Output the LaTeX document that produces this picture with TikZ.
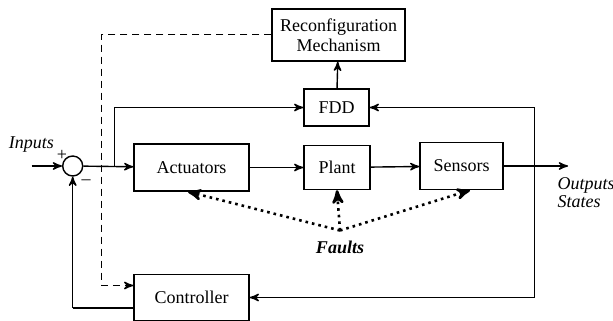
\documentclass[tikz,border=0pt]{standalone}
\usepackage{fontspec}
\setmainfont{Liberation Serif}
\usetikzlibrary{arrows}

\begin{document}
\begin{tikzpicture}[x=0.5pt, y=-0.5pt, ->, >=stealth', line width=0.7pt,
    font=\fontsize{9}{10}\selectfont]
  \tikzstyle{block} = [draw, rectangle, inner sep=0pt, align=center]
  \tikzstyle{fault} = [dotted, line width=1.3pt]
  \tikzstyle{signal} = [font=\fontsize{9}{9}\selectfont\itshape, align=left]
  \useasboundingbox (0,0) rectangle (613,320);
  \node [block, minimum width=66.5pt, minimum height=26pt] (recon) at (338.5,35) {Reconfiguration\\Mechanism};
  \node [block, minimum width=32.5pt, minimum height=18.5pt] (fdd) at (336.5,107.5) {FDD};
  \node [block, minimum width=57.5pt, minimum height=23.5pt] (act) at (191.5,167.5) {Actuators};
  \node [block, minimum width=33pt, minimum height=22pt] (plant) at (337,167.5) {Plant};
  \node [block, minimum width=41.5pt, minimum height=23.5pt] (sens) at (461.5,166) {Sensors};
  \node [block, minimum width=57.5pt, minimum height=23pt] (ctrl) at (191.5,297.5) {Controller};
  \node [draw, circle, minimum size=10pt, inner sep=0pt] (sum) at (72.7,166) {};
  \node [signal] (in) at (31.5,145) {Inputs};
  \node (plus) at (62,155) {+};
  \node (minus) at (86,182) {--};
  \node [signal, anchor=north west, inner sep=1pt] (out) at (555,175) {Outputs\\States};
  \node [font=\fontsize{9}{9}\selectfont\bfseries\itshape] (faults) at (340,247) {Faults};
  \coordinate (fp) at (340,230.5);
  \coordinate (src) at (31.5,166);
  \coordinate (split) at (114.3,166);
  \coordinate (tap) at (534.5,166);
  \coordinate (end) at (568,166);
  \coordinate (corner) at (101.7,34.3);
  \coordinate (fb) at (72.7,308);

  \draw (src) -- (sum);
  \draw (sum) -- (act);
  \draw (act) -- (plant);
  \draw (plant) -- (sens);
  \draw (sens) -- (end);
  \draw (split) |- (fdd);
  \draw (fdd) -- (recon);
  \draw (tap) |- (fdd);
  \draw (tap) |- (ctrl.east);
  \draw [-] (ctrl.west |- fb) -- (fb);
  \draw (fb) -- (sum);
  \draw [dash pattern=on 3.5pt off 2.5pt] (recon.west |- corner) -- (corner) |- ([yshift=6pt]ctrl.west);
  \draw [fault] (fp) -- (act.south -| 188,0);
  \draw [fault] (fp) -- (plant.south);
  \draw [fault] (fp) -- (sens.south -| 470,0);
\end{tikzpicture}
\end{document}
